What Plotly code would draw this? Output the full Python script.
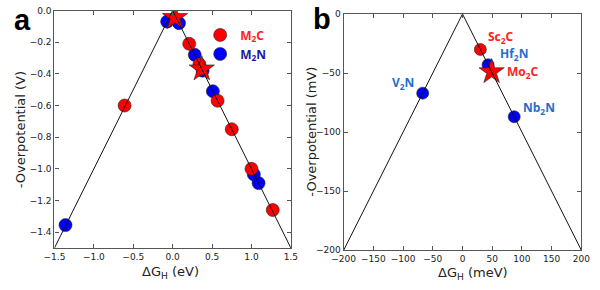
import plotly.graph_objects as go

# ---- Panel a data ----
a_m2c_x = [-0.61, 0.21, 0.34, 0.57, 0.75, 1.00, 1.27]
a_m2c_y = [-0.60, -0.21, -0.34, -0.57, -0.75, -1.00, -1.26]
a_m2n_x = [-1.36, -0.07, 0.08, 0.28, 0.38, 0.51, 1.03, 1.09]
a_m2n_y = [-1.355, -0.07, -0.08, -0.28, -0.38, -0.51, -1.035, -1.09]
a_star_x = [0.03, 0.37]
a_star_y = [-0.045, -0.37]
a_line_x = [-1.5, 0.0, 1.5]
a_line_y = [-1.5, 0.0, -1.5]
a_xticks = [-1.5, -1.0, -0.5, 0.0, 0.5, 1.0, 1.5]
a_yticks = [0.0, -0.2, -0.4, -0.6, -0.8, -1.0, -1.2, -1.4]

# ---- Panel b data ----
b_red_names = ["Sc<sub>2</sub>C"]
b_red_x = [30]
b_red_y = [-30]
b_blue_names = ["V<sub>2</sub>N", "Hf<sub>2</sub>N", "Nb<sub>2</sub>N"]
b_blue_x = [-67, 43, 87]
b_blue_y = [-67, -43, -87]
b_star_names = ["Mo<sub>2</sub>C"]
b_star_x = [49]
b_star_y = [-49]
b_line_x = [-200, 0, 200]
b_line_y = [-200, 0, -200]
b_xticks = [-200, -150, -100, -50, 0, 50, 100, 150, 200]
b_yticks = [0, -50, -100, -150, -200]

W, H = 600, 290
RED = "#ff0000"
BLUE = "#0000ff"
LBL_RED = "#ff2222"
LBL_BLUE = "#1f6fcc"
EDGE = dict(color="#222222", width=0.6)

fig = go.Figure()

# panel a
fig.add_trace(go.Scatter(x=a_m2n_x, y=a_m2n_y, mode="markers", xaxis="x", yaxis="y",
                         marker=dict(color=BLUE, size=13, line=EDGE),
                         name='<span style="color:#1a1aa6"><b>M<sub>2</sub>N</b></span>',
                         legendrank=2))
fig.add_trace(go.Scatter(x=a_m2c_x, y=a_m2c_y, mode="markers", xaxis="x", yaxis="y",
                         marker=dict(color=RED, size=13, line=EDGE),
                         name='<span style="color:#ff2222"><b>M<sub>2</sub>C</b></span>',
                         legendrank=1))
fig.add_trace(go.Scatter(x=a_star_x, y=a_star_y, mode="markers", xaxis="x", yaxis="y",
                         marker=dict(color=RED, size=19, symbol="star", line=EDGE),
                         showlegend=False))
fig.add_trace(go.Scatter(x=a_line_x, y=a_line_y, mode="lines", xaxis="x", yaxis="y",
                         line=dict(color="#111111", width=1), showlegend=False))

# panel b
fig.add_trace(go.Scatter(x=b_blue_x, y=b_blue_y, mode="markers", xaxis="x2", yaxis="y2",
                         marker=dict(color=BLUE, size=12, line=EDGE), showlegend=False))
fig.add_trace(go.Scatter(x=b_red_x, y=b_red_y, mode="markers", xaxis="x2", yaxis="y2",
                         marker=dict(color=RED, size=12, line=EDGE), showlegend=False))
fig.add_trace(go.Scatter(x=b_star_x, y=b_star_y, mode="markers", xaxis="x2", yaxis="y2",
                         marker=dict(color=RED, size=19, symbol="star", line=EDGE),
                         showlegend=False))
fig.add_trace(go.Scatter(x=b_line_x, y=b_line_y, mode="lines", xaxis="x2", yaxis="y2",
                         line=dict(color="#111111", width=1), showlegend=False))

# labels in panel b
lbl_font = dict(family="Open Sans, DejaVu Sans", size=12)
shifts_blue = [(-7, 10, "right"), (10, 11, "left"), (7, 9, "left")]
ann = []
for n, x, y, (dx, dy, xa) in zip(b_blue_names, b_blue_x, b_blue_y, shifts_blue):
    ann.append(dict(x=x, y=y, xref="x2", yref="y2", text="<b>%s</b>" % n, showarrow=False,
                    xanchor=xa, yanchor="middle", xshift=dx, yshift=dy,
                    font=dict(color=LBL_BLUE, **lbl_font)))
for n, x, y in zip(b_red_names, b_red_x, b_red_y):
    ann.append(dict(x=x, y=y, xref="x2", yref="y2", text="<b>%s</b>" % n, showarrow=False,
                    xanchor="left", yanchor="middle", xshift=6, yshift=12,
                    font=dict(color=LBL_RED, **lbl_font)))
for n, x, y in zip(b_star_names, b_star_x, b_star_y):
    ann.append(dict(x=x, y=y, xref="x2", yref="y2", text="<b>%s</b>" % n, showarrow=False,
                    xanchor="left", yanchor="middle", xshift=13, yshift=0,
                    font=dict(color=LBL_RED, **lbl_font)))

def px(x):
    return x / W

def py(y):
    return 1 - y / H

title_font = dict(family="DejaVu Sans", size=13, color="#222222")
ann += [
    dict(x=px(9), y=py(129), xref="paper", yref="paper", text="-Overpotential (V)",
         textangle=-90, showarrow=False, font=title_font, xanchor="center", yanchor="middle"),
    dict(x=px(310), y=py(131), xref="paper", yref="paper", text="-Overpotential (mV)",
         textangle=-90, showarrow=False, font=title_font, xanchor="center", yanchor="middle"),
    dict(x=px(164), y=py(277), xref="paper", yref="paper", text="ΔG<sub>H</sub> (eV)",
         showarrow=False, font=title_font, xanchor="center", yanchor="middle"),
    dict(x=px(478), y=py(278), xref="paper", yref="paper", text="ΔG<sub>H</sub> (meV)",
         showarrow=False, font=title_font, xanchor="center", yanchor="middle"),
    dict(x=px(0), y=py(16), xref="paper", yref="paper", text="<b>a</b>",
         showarrow=False, font=dict(family="Liberation Sans", size=29, color="black"),
         xanchor="left", yanchor="middle"),
    dict(x=px(310), y=py(15), xref="paper", yref="paper", text="<b>b</b>",
         showarrow=False, font=dict(family="Liberation Sans", size=29, color="black"),
         xanchor="left", yanchor="middle"),
]

tick_font = dict(family="DejaVu Sans", size=9, color="#222222")
axcommon = dict(showline=True, linecolor="#555555", linewidth=1.2, mirror="ticks",
                ticks="inside", ticklen=4, tickcolor="#555555", tickwidth=1,
                showgrid=False, zeroline=False, tickfont=tick_font)

fig.update_layout(
    width=W, height=H, margin=dict(l=0, r=0, t=0, b=0),
    paper_bgcolor="white", plot_bgcolor="white",
    xaxis=dict(domain=[px(44), px(289)], range=[-1.5, 1.5], anchor="y",
               tickvals=a_xticks, tickformat=".1f", **axcommon),
    yaxis=dict(domain=[py(251.7), py(5.7)], range=[-1.5, 0.0], anchor="x",
               tickvals=a_yticks, tickformat=".1f", **axcommon),
    xaxis2=dict(domain=[px(343.7), px(590)], range=[-200, 200], anchor="y2",
                tickvals=b_xticks, **axcommon),
    yaxis2=dict(domain=[py(254), py(9.3)], range=[-200, 0], anchor="x2",
                tickvals=b_yticks, **axcommon),
    legend=dict(x=px(195), y=py(16), xanchor="left", yanchor="top",
                bgcolor="rgba(0,0,0,0)", font=dict(family="Open Sans, DejaVu Sans", size=12),
                tracegroupgap=0, itemwidth=30),
    annotations=ann,
    showlegend=True,
)

fig.write_html("out.html", config={"displayModeBar": False},
               post_script="document.body.style.margin='0';")
